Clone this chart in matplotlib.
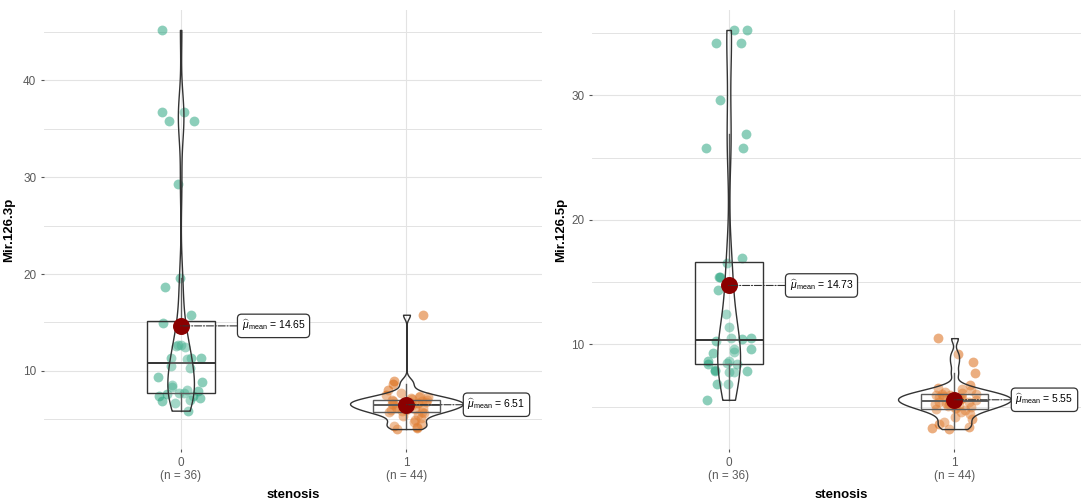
import numpy as np
import matplotlib
matplotlib.use("Agg")
from matplotlib import pyplot as plt
from matplotlib.ticker import MultipleLocator

plt.rcParams['font.family'] = ['Liberation Sans', 'DejaVu Sans']
plt.rcParams['mathtext.fontset'] = 'custom'
plt.rcParams['mathtext.rm'] = 'Liberation Sans'
plt.rcParams['mathtext.it'] = 'Liberation Sans:italic'

# 数据
groups = ["0", "1"]
xlabel = "stenosis"

mir3p_g0 = [45.2, 35.8, 35.8, 36.7, 36.7, 29.3,
            19.6, 18.7, 15.8, 14.9,
            12.6, 12.7, 12.7, 12.5,
            11.3, 11.3, 11.3, 11.2,
            10.3, 10.5, 9.4, 8.9, 8.5, 8.3,
            7.9, 7.7, 7.7, 7.4, 7.4, 7.0, 6.7, 6.9, 5.9,
            7.2, 7.6, 8.0]
mir3p_g1 = [4.0, 4.1, 4.2, 4.3, 4.5, 4.7, 4.9, 5.1, 5.3, 5.5, 5.65,
            5.75, 5.8, 5.9, 5.95, 6.0, 6.1, 6.15, 6.2, 6.3, 6.35, 6.45,
            6.5, 6.55, 6.6, 6.65, 6.7, 6.75, 6.8, 6.85, 6.9, 6.95, 7.0,
            7.1, 7.2, 7.3, 7.35, 7.4, 7.55, 7.7, 8.0, 8.6, 9.0, 15.8]

mir5p_g0 = [35.25, 35.25, 34.2, 34.2, 29.6, 26.9, 25.8, 25.8,
            16.9, 16.5, 15.4, 15.4, 14.4,
            12.4, 11.4, 10.5, 10.5, 10.4,
            9.66, 9.66, 10.3, 9.34, 9.4,
            8.65, 8.46, 8.7, 8.5, 7.85, 7.8, 7.75, 6.8, 6.8, 5.55,
            7.9, 8.4, 7.96]
mir5p_g1 = [3.2, 3.3, 3.4, 3.6, 3.8, 4.0, 4.2, 4.4, 4.55, 4.7, 4.8,
            4.85, 4.9, 5.0, 5.05, 5.1, 5.2, 5.25, 5.3, 5.35, 5.4, 5.45,
            5.5, 5.55, 5.6, 5.65, 5.7, 5.75, 5.8, 5.85, 5.9, 5.95, 6.0,
            6.05, 6.1, 6.2, 6.3, 6.4, 6.5, 6.7, 7.7, 8.55, 9.2, 10.5]

colors = ["#1B9E77", "#D95F02"]
line_col = "#333333"


def kde(vals, grid):
    # 高斯核密度，带宽同 R 的 bw.nrd0
    n = len(vals)
    sd = vals.std(ddof=1)
    iqr = np.subtract(*np.percentile(vals, [75, 25]))
    bw = 0.9 * min(sd, iqr / 1.34) * n ** -0.2
    z = (grid[:, None] - vals[None, :]) / bw
    return np.exp(-0.5 * z ** 2).sum(axis=1) / (n * bw * np.sqrt(2 * np.pi))


def panel(ax, data, ylabel, seed):
    rng = np.random.default_rng(seed)
    data = [np.asarray(d, dtype=float) for d in data]
    grids = [np.linspace(d.min(), d.max(), 512) for d in data]
    dens = [kde(d, g) for d, g in zip(data, grids)]
    dmax = max(d.max() for d in dens)

    for i, vals in enumerate(data):
        pos = i + 1
        xj = pos + rng.uniform(-0.1, 0.1, len(vals))
        ax.scatter(xj, vals, s=50, color=colors[i], alpha=0.5, lw=0, zorder=2)

        ax.boxplot(vals, positions=[pos], widths=0.3, whis=1.5, showfliers=False,
                   patch_artist=True, manage_ticks=False,
                   boxprops=dict(facecolor='none', edgecolor=line_col, lw=1.0),
                   medianprops=dict(color=line_col, lw=1.4),
                   whiskerprops=dict(color=line_col, lw=1.0),
                   capprops=dict(lw=0), zorder=3)

        hw = dens[i] / dmax * 0.25
        ax.fill_betweenx(grids[i], pos - hw, pos + hw, facecolor=(1, 1, 1, 0.2),
                         edgecolor=line_col, lw=1.0, zorder=4)

        m = vals.mean()
        ax.scatter([pos], [m], s=125, color='#8B0000', zorder=6)
        ax.annotate(rf"$\widehat{{\mu}}_{{\mathrm{{mean}}}}$ = {m:.2f}",
                    xy=(pos, m), xytext=(pos + 0.27, m), fontsize=7.5,
                    ha='left', va='center', zorder=7,
                    bbox=dict(boxstyle='round,pad=0.4', fc='white', ec=line_col, lw=0.9),
                    arrowprops=dict(arrowstyle='-', ls='-.', color=line_col, lw=0.8,
                                    shrinkA=0, shrinkB=0))

    lo = min(d.min() for d in data)
    hi = max(d.max() for d in data)
    pad = 0.05 * (hi - lo)
    ax.set_ylim(lo - pad, hi + pad)
    ax.set_xlim(0.395, 2.6)

    ax.set_xticks([1, 2])
    ax.set_xticklabels([f"{g}\n(n = {len(d)})" for g, d in zip(groups, data)])
    ax.yaxis.set_major_locator(MultipleLocator(10))
    ax.yaxis.set_minor_locator(MultipleLocator(5))
    ax.grid(which='major', color='#E3E3E3', lw=0.8)
    ax.grid(which='minor', axis='y', color='#E3E3E3', lw=0.7)
    ax.set_axisbelow(True)
    for s in ax.spines.values():
        s.set_visible(False)
    ax.tick_params(which='major', length=2.5, color='#555555', labelcolor='#5A5A5A',
                   labelsize=8.5, pad=3)
    ax.tick_params(which='minor', length=0)

    ax.set_ylabel(ylabel, fontweight='bold', fontsize=9.5)
    ax.set_xlabel(xlabel, fontweight='bold', fontsize=9.5)
    ax.xaxis.set_label_coords(0.5, -0.09)


fig = plt.figure(figsize=(10.81, 5.0), dpi=100)
ax1 = fig.add_axes([44 / 1081, 51 / 500, 498 / 1081, 439 / 500])
ax2 = fig.add_axes([592 / 1081, 51 / 500, 498 / 1081, 439 / 500])

panel(ax1, [mir3p_g0, mir3p_g1], "Mir.126.3p", 3)
panel(ax2, [mir5p_g0, mir5p_g1], "Mir.126.5p", 7)
ax1.yaxis.set_label_coords(-0.058, 0.5)
ax2.yaxis.set_label_coords(-0.05, 0.5)

fig.savefig("out.png", dpi=100)
